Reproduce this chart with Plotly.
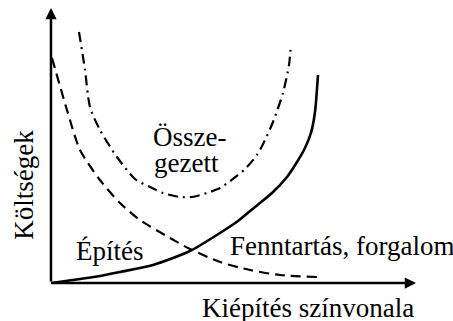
import plotly.graph_objects as go

# Construction cost (solid), rising steeply with the level of development
epites_x = [0.0, 1.342, 1.890, 2.795, 3.808, 4.630, 5.123, 5.589, 6.055, 6.466, 6.740, 6.959, 7.123, 7.233, 7.315]
epites_y = [0.0, 0.256, 0.403, 0.659, 1.172, 1.832, 2.271, 2.784, 3.297, 3.883, 4.432, 4.945, 5.495, 6.264, 7.619]

# Maintenance / traffic cost (dashed), falling
fenntartas_x = [0.027, 0.438, 0.795, 1.342, 1.890, 2.438, 3.260, 3.808, 4.630, 5.452, 6.274, 7.288]
fenntartas_y = [8.242, 6.337, 4.872, 3.773, 2.930, 2.308, 1.648, 1.245, 0.769, 0.476, 0.293, 0.220]

# Total cost (dash-dot), U-shaped
osszes_x = [0.767, 0.932, 1.068, 1.342, 1.808, 2.301, 2.712, 3.068, 3.534, 3.863,
            4.274, 4.630, 4.986, 5.315, 5.644, 5.863, 6.082, 6.356, 6.521, 6.575]
osszes_y = [9.194, 7.802, 6.447, 5.604, 4.615, 3.810, 3.516, 3.297, 3.150, 3.150,
            3.297, 3.480, 3.810, 4.176, 4.689, 5.238, 5.897, 6.960, 7.985, 8.718]

FONT = "Liberation Serif"
INK = "black"

fig = go.Figure()
fig.add_trace(go.Scatter(x=epites_x, y=epites_y, mode="lines",
                         line=dict(color=INK, width=2.6, shape="spline", smoothing=0.7)))
fig.add_trace(go.Scatter(x=fenntartas_x, y=fenntartas_y, mode="lines",
                         line=dict(color=INK, width=2.2, dash="10px,6px", shape="spline", smoothing=0.7)))
fig.add_trace(go.Scatter(x=osszes_x, y=osszes_y, mode="lines",
                         line=dict(color=INK, width=2.2, dash="10px,5px,2px,5px", shape="spline", smoothing=0.7)))

annotations = []
# Axes drawn as arrows from the origin
annotations.append(dict(x=0, y=10.07, ax=0, ay=0, xref="x", yref="y", axref="x", ayref="y",
                        showarrow=True, arrowhead=2, arrowsize=0.9, arrowwidth=2.5,
                        arrowcolor=INK, text=""))
annotations.append(dict(x=10.0, y=0, ax=0, ay=0, xref="x", yref="y", axref="x", ayref="y",
                        showarrow=True, arrowhead=2, arrowsize=0.9, arrowwidth=2.5,
                        arrowcolor=INK, text=""))

labels = [
    ("Költségek", -0.74, 3.6, "center", -90),
    ("Össze-", 2.74, 5.35, "left", 0),
    ("gezett", 2.77, 4.40, "left", 0),
    ("Építés", 0.63, 1.17, "left", 0),
    ("Fenntartás, forgalom", 4.85, 1.35, "left", 0),
    ("Kiépítés színvonala", 4.08, -0.93, "left", 0),
]
for txt, x, y, anchor, ang in labels:
    annotations.append(dict(x=x, y=y, xref="x", yref="y", text=txt, showarrow=False,
                            xanchor=anchor, yanchor="middle", textangle=ang,
                            font=dict(family=FONT, size=27, color=INK)))

fig.update_layout(
    width=453, height=321,
    margin=dict(l=0, r=0, t=0, b=0),
    paper_bgcolor="white", plot_bgcolor="white",
    showlegend=False,
    xaxis=dict(range=[-1.397, 11.014], visible=False, fixedrange=True),
    yaxis=dict(range=[-1.392, 10.366], visible=False, fixedrange=True),
    annotations=annotations,
)

fig.write_html("out.html")
